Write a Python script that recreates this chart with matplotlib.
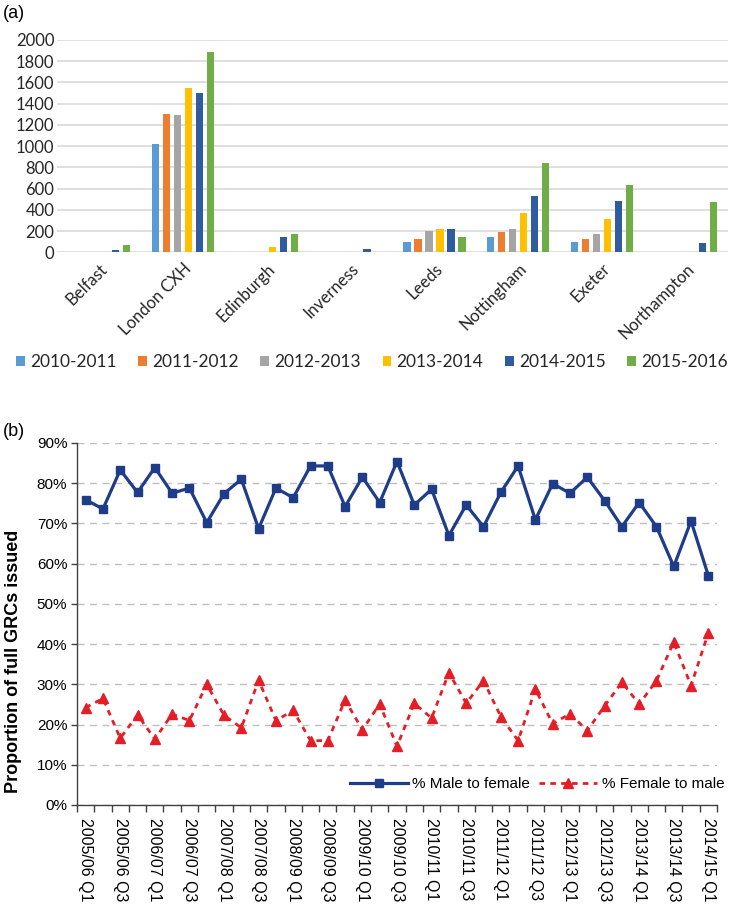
import numpy as np
import matplotlib
matplotlib.use("Agg")
from matplotlib import pyplot as plt

# (a) full GRCs by hearing centre and year
centres = ["Belfast", "London CXH", "Edinburgh", "Inverness", "Leeds", "Nottingham", "Exeter", "Northampton"]
years = ["2010-2011", "2011-2012", "2012-2013", "2013-2014", "2014-2015", "2015-2016"]
y2010 = [0, 1020, 0, 0, 100, 145, 100, 0]
y2011 = [0, 1305, 0, 0, 128, 190, 128, 0]
y2012 = [0, 1290, 0, 0, 204, 220, 170, 0]
y2013 = [0, 1545, 52, 0, 220, 367, 311, 0]
y2014 = [25, 1500, 144, 35, 217, 530, 486, 85]
y2015 = [70, 1887, 172, 0, 144, 844, 634, 471]
bar_colors = ["#5B9BD5", "#ED7D31", "#A5A5A5", "#FFC000", "#2E5C9E", "#70AD47"]

# (b) proportion of full GRCs issued, per quarter (%)
male_to_female = [75.9, 73.6, 83.3, 77.7, 83.9, 77.5, 78.8, 70.2, 77.4, 81.0,
                  68.7, 78.8, 76.4, 84.3, 84.3, 74.2, 81.5, 75.2, 85.4, 74.6,
                  78.5, 67.0, 74.6, 69.2, 77.7, 84.3, 70.9, 79.9, 77.5, 81.5,
                  75.7, 69.2, 75.2, 69.2, 59.3, 70.6, 57.0]
female_to_male = [24.2, 26.5, 16.6, 22.4, 16.4, 22.6, 21.0, 30.0, 22.3, 19.2,
                  31.0, 21.0, 23.5, 16.0, 16.0, 26.1, 18.7, 25.1, 14.6, 25.3,
                  21.6, 32.9, 25.3, 30.9, 22.0, 16.0, 28.8, 20.2, 22.7, 18.5,
                  24.6, 30.5, 25.1, 30.9, 40.5, 29.7, 42.8]
quarter_labels = ["2005/06 Q1", "2005/06 Q3", "2006/07 Q1", "2006/07 Q3", "2007/08 Q1",
                  "2007/08 Q3", "2008/09 Q1", "2008/09 Q3", "2009/10 Q1", "2009/10 Q3",
                  "2010/11 Q1", "2010/11 Q3", "2011/12 Q1", "2011/12 Q3", "2012/13 Q1",
                  "2012/13 Q3", "2013/14 Q1", "2013/14 Q3", "2014/15 Q1"]

W, H = 742, 905
fig = plt.figure(figsize=(W / 100, H / 100), dpi=100)

def box(x0, y0, x1, y1):
    # pixel box (top-left origin) -> figure fraction
    return [x0 / W, 1 - y1 / H, (x1 - x0) / W, (y1 - y0) / H]

# ---------- (a) bar chart ----------
ax1 = fig.add_axes(box(57, 40, 728, 252.3))
txt_a = "#262626"
series = [y2010, y2011, y2012, y2013, y2014, y2015]
x = np.arange(len(centres))
pitch = 0.131
width = 0.087
for i, (vals, col, lab) in enumerate(zip(series, bar_colors, years)):
    ax1.bar(x + (i - 2.5) * pitch, vals, width=width, color=col, label=lab, zorder=3)
ax1.set_xlim(-0.5, len(centres) - 0.5)
ax1.set_ylim(0, 2000)
ax1.set_yticks(np.arange(0, 2001, 200))
ax1.yaxis.grid(True, color="#D9D9D9", linewidth=1.2, zorder=0)
for s in ax1.spines.values():
    s.set_visible(False)
ax1.tick_params(axis="both", length=0, labelsize=12, labelcolor=txt_a)
ax1.tick_params(axis="y", pad=2)
for lab in ax1.get_yticklabels():
    lab.set_fontfamily("Lato")
ax1.set_xticks(x)
ax1.set_xticklabels(centres, rotation=45, ha="right", va="top", rotation_mode="anchor",
                    fontfamily="Lato", fontsize=12, color=txt_a)
ax1.tick_params(axis="x", pad=6)
fig.legend(*ax1.get_legend_handles_labels(), loc="center", ncol=6, frameon=False,
           bbox_to_anchor=(372 / W, 1 - 362 / H), prop={"family": "Lato", "size": 12.5},
           handlelength=0.5, handleheight=0.5, handletextpad=0.3, columnspacing=1.25,
           labelcolor=txt_a)

fig.text(3 / W, 1 - 13 / H, "(a)", fontsize=13, family="Liberation Sans", va="center", ha="left")

# ---------- (b) line chart ----------
ax2 = fig.add_axes(box(77, 443, 717, 805))
navy = "#1F3C88"
red = "#E41E26"
q = np.arange(len(male_to_female))
ax2.plot(q, male_to_female, color=navy, linewidth=2.3, marker="s", markersize=6.2,
         label="% Male to female", zorder=4)
ax2.plot(q, female_to_male, color=red, linewidth=2.0, dashes=(2.0, 1.9), marker="^",
         markersize=6.5, label="% Female to male", zorder=4)
ax2.set_xlim(-0.5, len(q) - 0.5)
ax2.set_ylim(0, 90)
ax2.set_yticks(np.arange(0, 91, 10))
ax2.set_yticklabels([f"{v}%" for v in range(0, 91, 10)])
ax2.yaxis.grid(True, color="#BFBFBF", linewidth=1, dashes=(5, 4), zorder=0)
ax2.spines["top"].set_visible(False)
ax2.spines["right"].set_visible(False)
for s in ("left", "bottom"):
    ax2.spines[s].set_color("#404040")
    ax2.spines[s].set_linewidth(1)
ax2.tick_params(axis="y", length=4, width=1, color="#404040", labelsize=11, pad=3)
ax2.set_xticks(q[::2])
ax2.set_xticklabels(quarter_labels, rotation=-90, ha="center", va="top",
                    fontsize=11.5)
ax2.set_xticks(np.arange(-0.5, len(q)), minor=True)
ax2.tick_params(axis="x", which="major", length=0, pad=9)
ax2.tick_params(axis="x", which="minor", length=5, width=1, color="#404040")
for lab in ax2.get_xticklabels() + ax2.get_yticklabels():
    lab.set_fontfamily("Liberation Sans")
fig.text(14 / W, 1 - 661 / H, "Proportion of full GRCs issued", rotation=90,
         fontsize=13, fontweight="bold", family="Liberation Sans", ha="center", va="center")
ax2.legend(loc="center", bbox_to_anchor=(537 / W, 1 - 784 / H), bbox_transform=fig.transFigure,
           ncol=2, frameon=False, handlelength=3.8, handletextpad=0.3, columnspacing=0.6,
           prop={"family": "Liberation Sans", "size": 11})

fig.text(3 / W, 1 - 431 / H, "(b)", fontsize=13, family="Liberation Sans", va="center", ha="left")

fig.savefig("out.png", dpi=100)
